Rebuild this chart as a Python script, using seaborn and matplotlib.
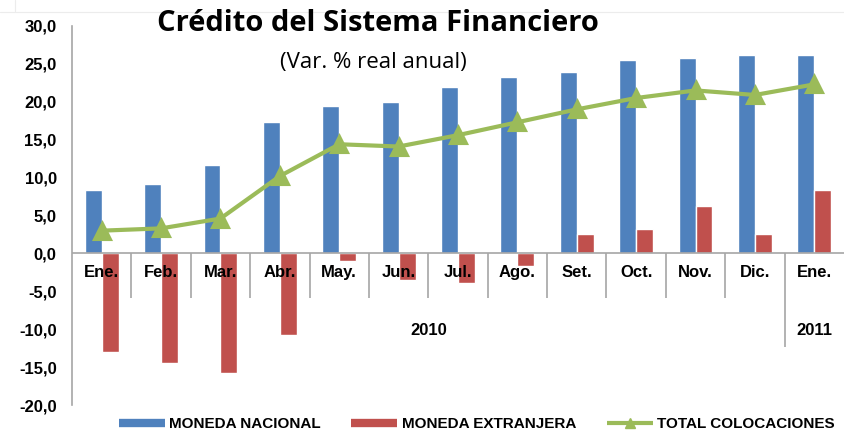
import numpy as np
import pandas as pd
import matplotlib.pyplot as plt
from matplotlib.lines import Line2D
import seaborn as sns

# datos
meses = ["Ene.", "Feb.", "Mar.", "Abr.", "May.", "Jun.", "Jul.", "Ago.",
         "Set.", "Oct.", "Nov.", "Dic.", "Ene."]
moneda_nacional = [8.3, 9.2, 11.7, 17.3, 19.5, 20.0, 21.9, 23.3, 23.9, 25.5, 25.8, 26.2, 26.2]
moneda_extranjera = [-13.0, -14.4, -15.8, -10.8, -1.0, -3.5, -3.9, -1.7, 2.6, 3.2, 6.3, 2.6, 8.3]
total_colocaciones = [3.0, 3.3, 4.6, 10.2, 14.4, 14.1, 15.6, 17.3, 19.0, 20.5, 21.5, 20.9, 22.3]
anios = ["2010", "2011"]

blue = '#4F81BD'
red = '#C0504D'
green = '#9BBB59'
gris = '#a6a6a6'

pos = list(range(len(meses)))
df = pd.DataFrame({
    'pos': pos + pos,
    'valor': moneda_nacional + moneda_extranjera,
    'serie': ['MONEDA NACIONAL'] * len(pos) + ['MONEDA EXTRANJERA'] * len(pos),
})

sns.set_style('white')
plt.rcParams['font.family'] = ['Liberation Sans', 'DejaVu Sans']
plt.rcParams['text.color'] = 'black'
plt.rcParams['ytick.color'] = 'black'

fig = plt.figure(figsize=(8.44, 4.34), dpi=100)
fig.set_facecolor('white')
ax = fig.add_axes([0.0853, 0.0668, 0.9147, 0.8733])

# rastro de la hoja de calculo arriba
fig.add_artist(Line2D([0, 1], [0.972, 0.972], color='#ececec', lw=0.8))
fig.add_artist(Line2D([0.018, 0.018], [0.972, 1], color='#ececec', lw=0.8))

sns.barplot(data=df, x='pos', y='valor', hue='serie', palette=[blue, red],
            saturation=1, width=0.57, errorbar=None, legend=False, ax=ax, zorder=2)
sns.pointplot(x=pos, y=total_colocaciones, color=green, markers='^', markersize=11,
              linewidth=3, ax=ax, zorder=4)

ax.set_xlim(-0.5, len(meses) - 0.5)
ax.set_ylim(-20, 30)
ax.set_xticks([])
ax.set_xlabel('')
ax.set_ylabel('')

yt = np.arange(-20, 31, 5)
ax.set_yticks(yt)
ax.set_yticklabels([f"{v:.1f}".replace('.', ',') for v in yt],
                   fontsize=12, fontweight='bold')
ax.tick_params(axis='y', length=4, width=1, color=gris, labelcolor='black',
               direction='out', pad=7)

for s in ['top', 'right', 'bottom']:
    ax.spines[s].set_visible(False)
ax.spines['left'].set_color(gris)
ax.spines['left'].set_linewidth(1.2)

# linea del cero
ax.axhline(0, color=gris, lw=1.2, zorder=3)

# separadores de categorias
for k in range(len(meses) - 2):
    ax.vlines(k + 0.5, -5.9, 0, color=gris, lw=1.2, zorder=1)
ax.vlines(len(meses) - 1.5, -12.4, 0, color=gris, lw=1.2, zorder=1)

for i, m in enumerate(meses):
    ax.text(i, -2.5, m, ha='center', va='center', fontsize=12,
            fontweight='bold', zorder=5)
ax.text(5.5, -10.2, anios[0], ha='center', va='center', fontsize=12, fontweight='bold')
ax.text(12, -10.2, anios[1], ha='center', va='center', fontsize=12, fontweight='bold')

fig.text(0.448, 0.945, 'Crédito del Sistema Financiero', ha='center', va='center',
         fontsize=21, fontweight='bold', color='black', family=['Open Sans', 'DejaVu Sans'])
fig.text(0.442, 0.857, '(Var. % real anual)', ha='center', va='center',
         fontsize=16, color='black', family=['Open Sans', 'DejaVu Sans'])

handles = [Line2D([], [], color=blue, lw=6, solid_capstyle='butt'),
           Line2D([], [], color=red, lw=6, solid_capstyle='butt'),
           Line2D([], [], color=green, lw=3, marker='^', markersize=7, solid_capstyle='butt')]
labels = ['MONEDA NACIONAL', 'MONEDA EXTRANJERA', 'TOTAL COLOCACIONES']
fig.legend(handles, labels, loc='center', bbox_to_anchor=(0.565, 0.022), ncol=3,
           frameon=False, handlelength=3, handletextpad=0.3, columnspacing=2.0,
           prop={'weight': 'bold', 'size': 11})

fig.savefig('out.png', dpi=100, facecolor='white')
